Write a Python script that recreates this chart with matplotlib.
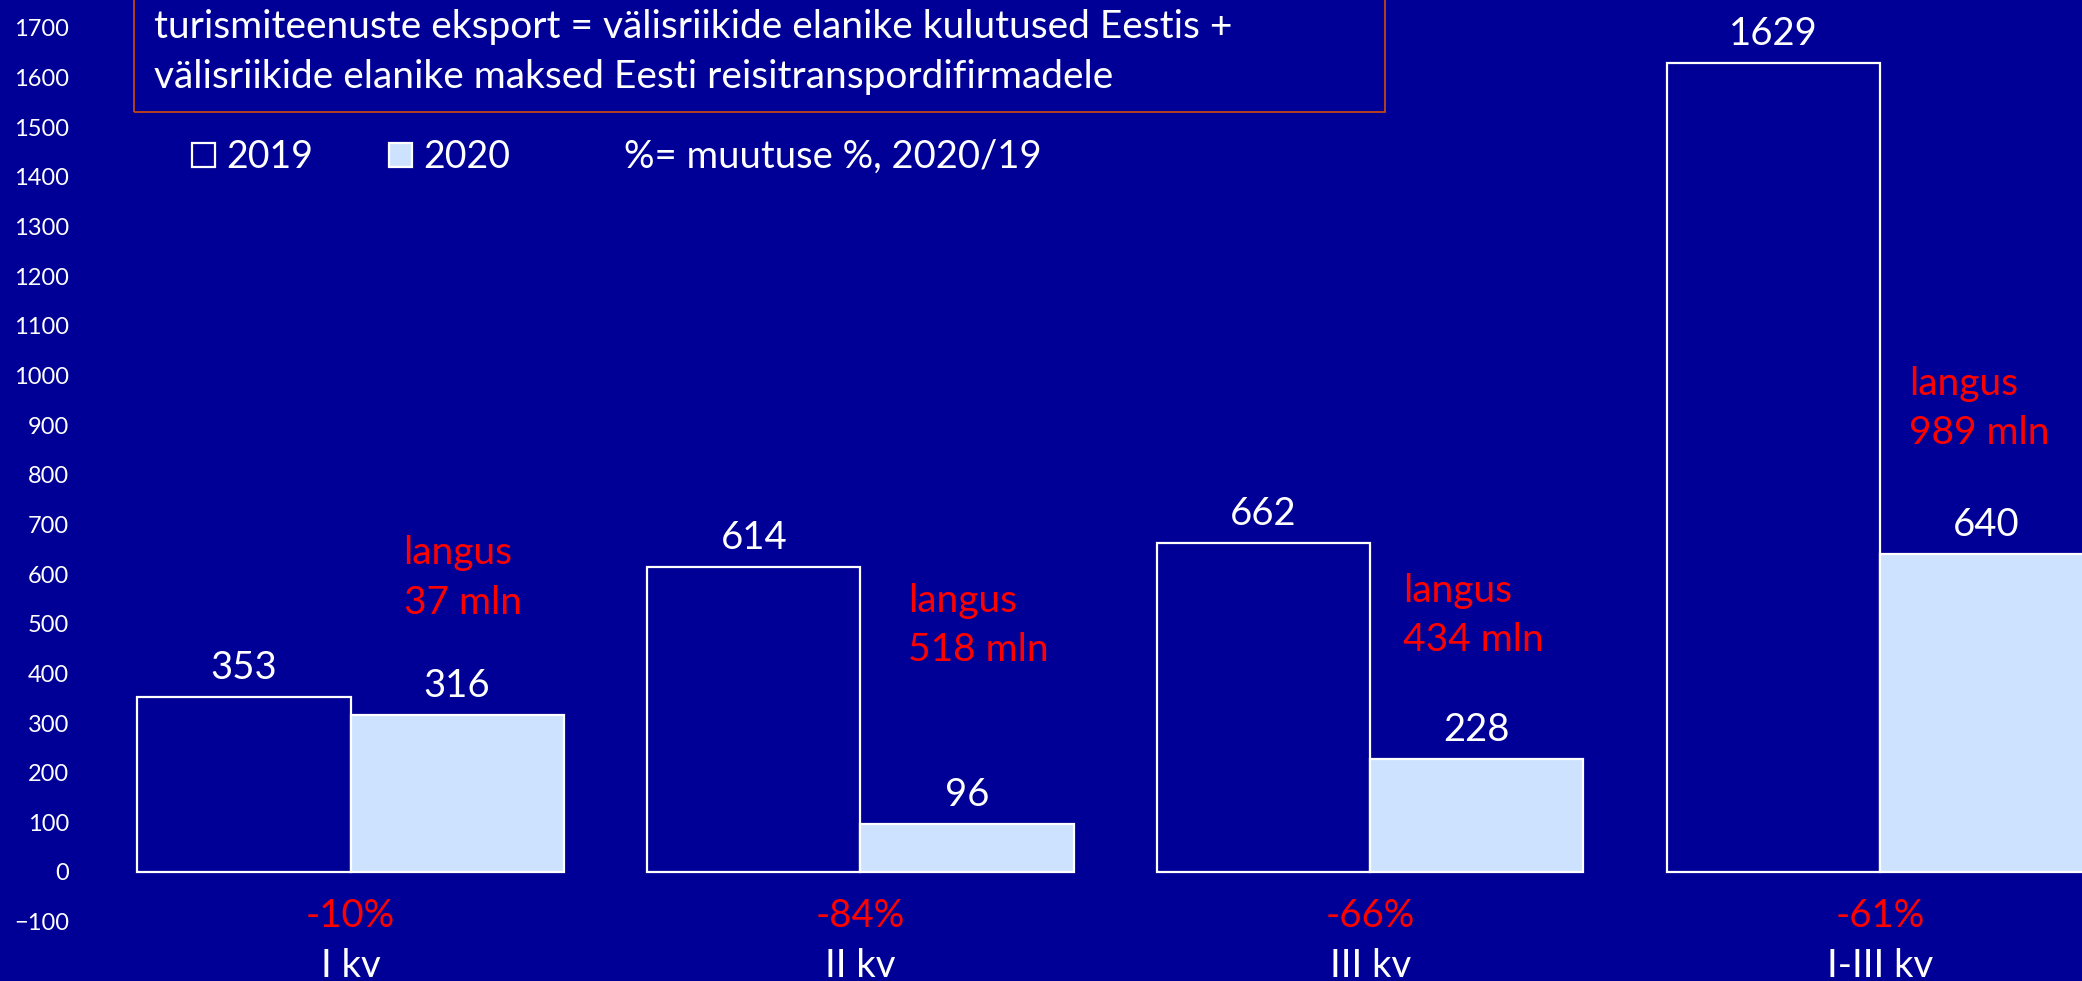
"""
Turismiteenuste eksport 2019 vs 2020 kvartalite kaupa
"""

import matplotlib
matplotlib.use('Agg')
import matplotlib.pyplot as plt
from matplotlib.patches import Rectangle
import numpy as np

# data
quarters = ['I kv', 'II kv', 'III kv', 'I-III kv']
exp_2019 = [353, 614, 662, 1629]
exp_2020 = [316, 96, 228, 640]
change_pct = ['-10%', '-84%', '-66%', '-61%']
decline = ['37 mln', '518 mln', '434 mln', '989 mln']

BG = '#000096'
LIGHT = '#CCE2FF'
RED = '#FF0000'
W, H = 2082, 981

plt.rcParams['font.family'] = ['Lato', 'DejaVu Sans']

fig = plt.figure(figsize=(W / 100, H / 100), dpi=100, facecolor=BG)
ax = fig.add_axes([0, 0, 1, 1], facecolor=BG)

x = np.arange(len(quarters))
bw = 0.418
b1 = ax.bar(x - bw, exp_2019, width=bw, align='edge', color=BG,
            edgecolor='white', linewidth=1.6, label='2019')
b2 = ax.bar(x, exp_2020, width=bw, align='edge', color=LIGHT,
            edgecolor='white', linewidth=1.6, label='2020')

ax.set_xlim(-0.6875, 3.396)
ax.set_ylim(-219.5, 1756)

# value labels
for bars in (b1, b2):
    for r in bars:
        ax.annotate(str(int(r.get_height())),
                    (r.get_x() + r.get_width() / 2, r.get_height()),
                    xytext=(0, 18), textcoords='offset pixels',
                    ha='center', va='baseline', color='white', fontsize=27.5)

# "langus" notes, placed right of the group centre
note_dx = [0.104, 0.094, 0.065, 0.057]
note_y = [592, 497, 516, 933]
for i in range(len(quarters)):
    ax.text(x[i] + note_dx[i], note_y[i], 'langus\n' + decline[i],
            ha='left', va='center', color=RED, fontsize=28, linespacing=1.45)

# percent change and category names below axis
for i in range(len(quarters)):
    ax.text(x[i], -89, change_pct[i], ha='center', va='center',
            color=RED, fontsize=27.5)
    ax.text(x[i], -189, quarters[i], ha='center', va='center',
            color='white', fontsize=27.5)

ax.set_yticks(range(-100, 1800, 100))
ax.tick_params(axis='y', length=0, pad=-49.7, labelcolor='white', labelsize=17)
ax.set_xticks([])
for s in ax.spines.values():
    s.set_visible(False)

# definition box
fig.patches.append(Rectangle((134 / W, 1 - 112 / H), 1251 / W, 0.2,
                             transform=fig.transFigure, facecolor='none',
                             edgecolor='#D24A0A', linewidth=1.2))
fig.text(154 / W, 1 - 27 / H,
         'turismiteenuste eksport = välisriikide elanike kulutused Eestis +',
         ha='left', va='center', color='white', fontsize=28)
fig.text(154 / W, 1 - 77 / H,
         'välisriikide elanike maksed Eesti reisitranspordifirmadele',
         ha='left', va='center', color='white', fontsize=28)

# legend
ax.legend(loc='center left', bbox_to_anchor=(192 / W, 1 - 157 / H),
          bbox_transform=fig.transFigure, ncol=2, frameon=False,
          fontsize=27, labelcolor='white', handlelength=0.62,
          handleheight=0.62, handletextpad=0.3, columnspacing=2.0,
          borderpad=0, borderaxespad=0)
fig.text(624 / W, 1 - 157 / H, '%= muutuse %, 2020/19', ha='left',
         va='center', color='white', fontsize=27.5)

fig.savefig('out.png', dpi=100, facecolor=BG)
